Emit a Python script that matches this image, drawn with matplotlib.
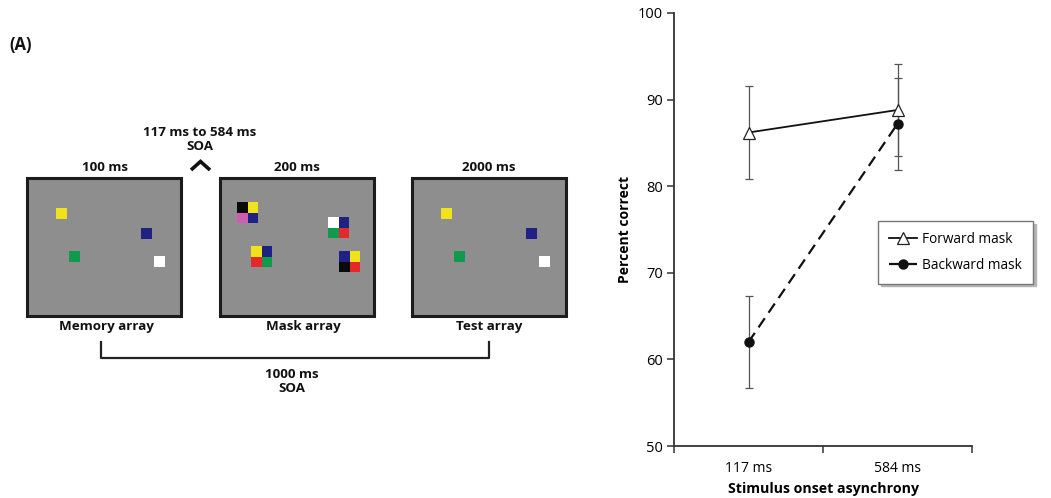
import matplotlib
matplotlib.use('Agg')
import matplotlib.pyplot as plt
from matplotlib.patches import Rectangle
import numpy as np

plt.rcParams['font.family'] = ['Open Sans', 'DejaVu Sans']

# Resultados: porcentaje correcto por SOA
soa_labels = ['117 ms', '584 ms']
forward = [86.2, 88.8]
forward_err = [5.35, 5.35]
backward = [62.0, 87.2]
backward_err = [5.35, 5.35]

# Colores de los cuadrados del paradigma
col = {'Y': '#f2e21c', 'B': '#1f2283', 'G': '#129a4c', 'W': '#ffffff',
       'K': '#0a0a0a', 'R': '#e6272b', 'P': '#cf5db2'}

# Arreglo de memoria (se repite en el arreglo de prueba): (x, y, color)
memory_items = [(56, 208, 'Y'), (141, 228, 'B'), (69, 251, 'G'), (154, 256, 'W')]
# Mascara: grupos 2x2 (esquina sup. izq., colores fila a fila)
mask_items = [((237, 202), 'KYPB'), ((328, 217), 'WBGR'),
              ((251, 246), 'YBRG'), ((339, 251), 'BYKR')]

W, H = 1051, 498
fig = plt.figure(figsize=(W / 100, H / 100), dpi=100)

# Panel izquierdo: esquema en coordenadas de pixel
ax0 = fig.add_axes([0, 0, 1, 1])
ax0.set_xlim(0, W)
ax0.set_ylim(H, 0)
ax0.axis('off')

frames_x = [27, 220, 412]
frame_w, frame_top, frame_h = 154, 178, 138
cell = 10.5

for fx in frames_x:
    ax0.add_patch(Rectangle((fx, frame_top), frame_w, frame_h, facecolor='#8e8e8e',
                            edgecolor='#1c1c1c', linewidth=2.2, zorder=1))

for dx in (0, frames_x[2] - frames_x[0]):
    for x, y, c in memory_items:
        ax0.add_patch(Rectangle((x + dx, y), cell, cell, facecolor=col[c],
                                edgecolor='none', zorder=2))

for (x, y), cs in mask_items:
    for k, c in enumerate(cs):
        ax0.add_patch(Rectangle((x + (k % 2) * cell, y + (k // 2) * cell), cell, cell,
                                facecolor=col[c], edgecolor='none', zorder=2))

bold = dict(fontweight='bold', fontsize=9.6, color='#111111', ha='center', va='center')
ax0.text(9, 45, '(A)', **{**bold, 'ha': 'left', 'fontsize': 12})
ax0.text(105, 167, '100 ms', **bold)
ax0.text(297, 167, '200 ms', **bold)
ax0.text(489, 167, '2000 ms', **bold)
ax0.text(200, 132, '117 ms to 584 ms', **bold)
ax0.text(200, 146, 'SOA', **bold)
ax0.text(106, 326, 'Memory array', **bold)
ax0.text(303, 326, 'Mask array', **bold)
ax0.text(489, 326, 'Test array', **bold)
ax0.text(292, 374, '1000 ms', **bold)
ax0.text(292, 388, 'SOA', **bold)

# flecha del SOA variable
ax0.plot([191, 200.5, 210], [170, 161.5, 170], color='#111111', lw=2.6,
         solid_joinstyle='miter', solid_capstyle='butt')
# corchete del SOA de 1000 ms
ax0.plot([101, 101, 489, 489], [342, 357.5, 357.5, 342], color='#222222', lw=1.6)

# Panel derecho: grafica de resultados
left, right, top, bottom = 674, 972, 13, 446
ax = fig.add_axes([left / W, 1 - bottom / H, (right - left) / W, (bottom - top) / H])
xpos = np.arange(len(soa_labels)) + 0.5

ax.errorbar(xpos, forward, yerr=forward_err, fmt='none', ecolor='#555555',
            elinewidth=0.9, capsize=3, capthick=0.9, zorder=2)
ax.errorbar(xpos, backward, yerr=backward_err, fmt='none', ecolor='#555555',
            elinewidth=0.9, capsize=3, capthick=0.9, zorder=2)
ax.plot(xpos, forward, '-', color='#111111', lw=1.3, marker='^', ms=8,
        mfc='white', mec='#222222', mew=0.9, label='Forward mask', zorder=4)
ax.plot(xpos, backward, '--', color='#111111', lw=1.6, dashes=(5, 3), marker='o',
        ms=6.5, mfc='#111111', mec='#111111', label='Backward mask', zorder=3)

ax.set_xlim(0, 2)
ax.set_ylim(50, 100)
ax.set_yticks(np.arange(50, 101, 10))
ax.set_xticks([0, 1, 2])
ax.set_xticklabels([])
ax.set_xticks(xpos, minor=True)
ax.set_xticklabels(soa_labels, minor=True)
ax.tick_params(axis='x', which='minor', length=0, pad=11, labelsize=10)
ax.tick_params(axis='x', which='major', length=5, width=1.1, color='#333333')
ax.tick_params(axis='y', length=5, width=1.1, color='#333333', labelsize=10.5, pad=3)
for s in ('top', 'right'):
    ax.spines[s].set_visible(False)
for s in ('left', 'bottom'):
    ax.spines[s].set_linewidth(1.3)
    ax.spines[s].set_color('#333333')

ax.set_xlabel('Stimulus onset asynchrony', fontweight='bold', fontsize=10.2, labelpad=4)
ax.set_ylabel('Percent correct', fontweight='bold', fontsize=10, labelpad=4)

leg = ax.legend(loc='upper left', bbox_to_anchor=(878 / W, 1 - 221 / H),
                bbox_transform=fig.transFigure, frameon=True, fancybox=False,
                shadow={'color': '#b5b5b5', 'alpha': 1.0}, fontsize=9.8,
                handlelength=2.1, handletextpad=0.35, borderpad=0.8,
                labelspacing=0.8, borderaxespad=0)
leg.get_frame().set_edgecolor('#777777')
leg.get_frame().set_linewidth(1.0)

fig.savefig('out.png', dpi=100)
